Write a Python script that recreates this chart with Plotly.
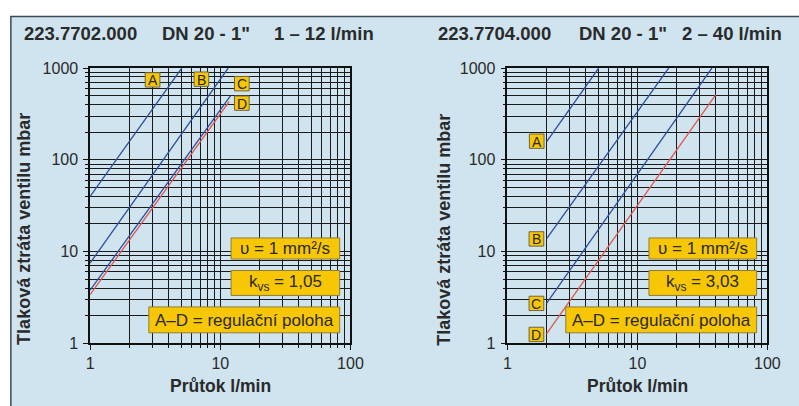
import plotly.graph_objects as go

# ---------------- data ----------------
# left chart 223.7702.000 (flow l/min -> pressure loss mbar)
L_A_q = [1, 5.06];  L_A_dp = [40, 1000]
L_B_q = [1, 11.5];  L_B_dp = [7.5, 1000]
L_C_q = [1, 12];    L_C_dp = [3.8, 500]
L_D_q = [1, 11.7];  L_D_dp = [3.4, 430]
# right chart 223.7704.000
R_A_q = [2, 5.04];  R_A_dp = [157, 1000]
R_B_q = [2, 17.4];  R_B_dp = [13.8, 1000]
R_C_q = [2, 37.4];  R_C_dp = [2.72, 1000]
R_D_q = [2, 40];    R_D_dp = [1.27, 511]

x_ticks = [1, 10, 100]
y_ticks = [1, 10, 100, 1000]
x_ticklabels = ["1", "10", "100"]
y_ticklabels = ["1", "10", "100", "1000"]

title_left = ["223.7702.000", "DN 20 - 1\"", "1 \u2013 12 l/min"]
title_right = ["223.7704.000", "DN 20 - 1\"", "2 \u2013 40 l/min"]
info_left = ["\u03c5 = 1 mm\u00b2/s", "k<sub>vs</sub> = 1,05", "A\u2013D = regula\u010dn\u00ed poloha"]
info_right = ["\u03c5 = 1 mm\u00b2/s", "k<sub>vs</sub> = 3,03", "A\u2013D = regula\u010dn\u00ed poloha"]
series_names = ["A", "B", "C", "D"]

# ---------------- styling ----------------
W, H = 799, 406
BG = "#cfe4ef"
YEL = "#f7c604"
BLUE = "#2d4f9c"
RED = "#e0554e"
TXT = "#2a2a2a"
FONT = "Liberation Sans, Arial, sans-serif"

def px(x):
    return x / W

def py(y):
    return 1 - y / H

fig = go.Figure()
left = [(L_A_q, L_A_dp), (L_B_q, L_B_dp), (L_C_q, L_C_dp), (L_D_q, L_D_dp)]
right = [(R_A_q, R_A_dp), (R_B_q, R_B_dp), (R_C_q, R_C_dp), (R_D_q, R_D_dp)]
colors = [BLUE, BLUE, BLUE, RED]
for (q, dp), c, n in zip(left, colors, series_names):
    fig.add_trace(go.Scatter(x=q, y=dp, mode="lines", name=n, line=dict(color=c, width=1.3),
                             xaxis="x", yaxis="y", showlegend=False))
for (q, dp), c, n in zip(right, colors, series_names):
    fig.add_trace(go.Scatter(x=q, y=dp, mode="lines", name=n, line=dict(color=c, width=1.3),
                             xaxis="x2", yaxis="y2", showlegend=False))

ydom = [py(350), py(62.7)]
xdom_l = [px(88), px(354)]
xdom_r = [px(514.3), px(780)]
GRID = "#1a1a1a"

def axis(dom, anchor, rng, vals, txts, standoff=None):
    d = dict(type="log", range=rng, domain=dom, anchor=anchor,
             tickvals=vals, ticktext=txts,
             ticks="outside", ticklen=5, tickcolor="#111",
             showgrid=True, gridcolor=GRID, gridwidth=1,
             showline=True, linecolor="#111", linewidth=1.5, mirror=True,
             minor=dict(dtick="D1", showgrid=True, gridcolor=GRID,
                        gridwidth=1, ticks="outside", ticklen=3, tickcolor="#111"),
             tickfont=dict(size=16, color=TXT, family=FONT), zeroline=False, fixedrange=True)
    if standoff is not None:
        d["ticklabelstandoff"] = standoff
    return d

fig.update_layout(
    width=W, height=H, margin=dict(l=0, r=0, t=0, b=0),
    paper_bgcolor="white", plot_bgcolor="white",
    font=dict(family=FONT, color=TXT),
    xaxis=axis(xdom_l, "y", [0, 2], x_ticks, x_ticklabels),
    yaxis=axis(ydom, "x", [0, 3], y_ticks, y_ticklabels, 2),
    xaxis2=axis(xdom_r, "y2", [0, 2], x_ticks, x_ticklabels),
    yaxis2=axis(ydom, "x2", [0, 3], y_ticks, y_ticklabels, 2),
    showlegend=False,
)

shapes = []
# light-blue framed background
shapes.append(dict(type="rect", xref="paper", yref="paper",
                   x0=px(7), x1=1.05, y0=-0.05, y1=py(9),
                   fillcolor=BG, line=dict(color="#3c4a55", width=1.5), layer="below"))

annotations = []
for xs, parts in (([18, 159, 274], title_left), ([441.7, 585, 690.7], title_right)):
    for x, t in zip(xs, parts):
        annotations.append(dict(text="<b>%s</b>" % t, x=px(x), y=py(27), xref="paper", yref="paper",
                                xanchor="left", yanchor="middle", showarrow=False,
                                font=dict(size=18.5, color=TXT, family=FONT)))
for xc in (21, 450):
    annotations.append(dict(text="<b>Tlakov\u00e1 ztr\u00e1ta ventilu mbar</b>", x=px(xc), y=py(231),
                            xref="paper", yref="paper", textangle=-90, showarrow=False,
                            xanchor="center", yanchor="middle",
                            font=dict(size=18, color=TXT, family=FONT)))
for xc in (221, 647):
    annotations.append(dict(text="<b>Pr\u016ftok l/min</b>", x=px(xc), y=py(395),
                            xref="paper", yref="paper", showarrow=False,
                            xanchor="center", yanchor="middle",
                            font=dict(size=17.5, color=TXT, family=FONT)))

def info(boxes, texts):
    for (x0, x1, y0, y1), t in zip(boxes, texts):
        shapes.append(dict(type="rect", xref="paper", yref="paper",
                           x0=px(x0), x1=px(x1), y0=py(y1), y1=py(y0),
                           fillcolor=YEL, line=dict(color="#8d7c3c", width=1), layer="above"))
        annotations.append(dict(text=t, x=px((x0 + x1) / 2), y=py((y0 + y1) / 2 + 0.5),
                                xref="paper", yref="paper", showarrow=False,
                                xanchor="center", yanchor="middle",
                                font=dict(size=17, color=TXT, family=FONT)))

info([(232, 343, 240, 262), (232, 343, 274, 300), (148, 343, 312, 339)], info_left)
info([(659, 769, 240, 262), (659, 769, 274, 300), (574, 769, 312, 339)], info_right)

def labels(pos):
    for (x, y), n in zip(pos, series_names):
        shapes.append(dict(type="rect", xref="paper", yref="paper",
                           x0=px(x - 7.5), x1=px(x + 7.5), y0=py(y + 7.5), y1=py(y - 7.5),
                           fillcolor=YEL, line=dict(color="#6f6440", width=1), layer="above"))
        annotations.append(dict(text=n, x=px(x), y=py(y + 0.5), xref="paper", yref="paper",
                                showarrow=False, xanchor="center", yanchor="middle",
                                font=dict(size=14, color=TXT, family=FONT)))

labels([(151.8, 75), (201.7, 74.3), (243, 79), (243, 99.3)])
labels([(544.3, 139), (544, 241), (544, 308.3), (544, 340.7)])

fig.update_layout(shapes=shapes, annotations=annotations)
fig.write_html("out.html", config={"displayModeBar": False},
               post_script="document.body.style.margin='0';document.body.style.overflow='hidden';")
